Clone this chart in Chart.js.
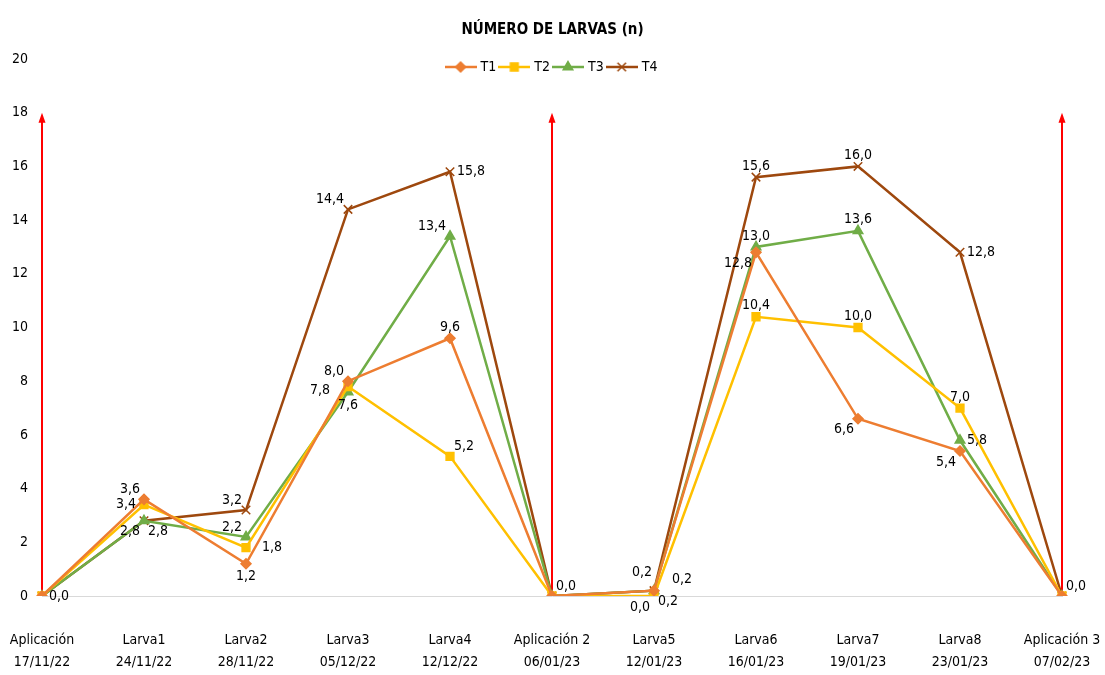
<!DOCTYPE html>
<html>
<head>
<meta charset="utf-8">
<script src="https://cdn.jsdelivr.net/npm/chart.js@4.4.1/dist/chart.umd.min.js"></script>
<style>
  html, body { margin: 0; padding: 0; background: #fff; }
</style>
</head>
<body>
<canvas id="chart" width="1105" height="675"></canvas>
<script>
// Datos
const categorias = [
  ['Aplicación', '17/11/22'], ['Larva1', '24/11/22'], ['Larva2', '28/11/22'],
  ['Larva3', '05/12/22'], ['Larva4', '12/12/22'], ['Aplicación 2', '06/01/23'],
  ['Larva5', '12/01/23'], ['Larva6', '16/01/23'], ['Larva7', '19/01/23'],
  ['Larva8', '23/01/23'], ['Aplicación 3', '07/02/23']
];
const t1 = [0, 3.6, 1.2, 8.0, 9.6, 0, 0.2, 12.8, 6.6, 5.4, 0];
const t2 = [0, 3.4, 1.8, 7.8, 5.2, 0, 0.0, 10.4, 10.0, 7.0, 0];
const t3 = [0, 2.8, 2.2, 7.6, 13.4, 0, 0.2, 13.0, 13.6, 5.8, 0];
const t4 = [0, 2.8, 3.2, 14.4, 15.8, 0, 0.2, 15.6, 16.0, 12.8, 0];
const series = ['T1', 'T2', 'T3', 'T4'];
const yTicks = [0, 2, 4, 6, 8, 10, 12, 14, 16, 18, 20];

// flechas rojas (aplicaciones)
const aplicaciones = [0, 5, 10];
const alturaFlecha = 18;

// posición de las etiquetas de cada punto ('' = sin etiqueta)
const pos1 = ['r', 'tl', 'b', 'tl', 't', 'tr', 'br', 'bl', 'bl', 'bl', 'tr'];
const pos2 = ['', 'l', 'rr', 'll', 'tr', '', 'bl', 't', 't', 't', ''];
const pos3 = ['', 'bl', 'tl', 'b', 'tl', '', 'trr', 't', 't', 'r', ''];
const pos4 = ['', 'br', 'tl', 'tl', 'r', '', 'ttl', 't', 't', 'r', ''];

// desplazamiento x, y, alineación y base para cada posición
const desplaz = {
  r: [7, 0, 'left', 'middle'], rr: [16, 0, 'left', 'middle'],
  l: [-8, 0, 'right', 'middle'], ll: [-18, 4, 'right', 'middle'],
  t: [0, -4, 'center', 'bottom'], b: [0, 6, 'center', 'top'],
  tl: [-4, -3, 'right', 'bottom'], ttl: [-2, -11, 'right', 'bottom'],
  tr: [4, -3, 'left', 'bottom'], trr: [18, -4, 'left', 'bottom'],
  bl: [-4, 4, 'right', 'top'], br: [4, 4, 'left', 'top']
};

const FONT = "'Liberation Sans Narrow', 'DejaVu Sans Condensed', sans-serif";
Chart.defaults.font.family = FONT;
Chart.defaults.color = '#000';

const colores = ['#ED7D31', '#FFC000', '#70AD47', '#9E480E'];
const estilos = ['rectRot', 'rect', 'triangle', 'crossRot'];
const radios = [5, 5.5, 5.5, 6];

function iconoLeyenda(i) {
  const c = document.createElement('canvas');
  c.width = 32; c.height = 14;
  const g = c.getContext('2d');
  g.strokeStyle = colores[i];
  g.lineWidth = 2.5;
  g.beginPath(); g.moveTo(0, 7); g.lineTo(32, 7); g.stroke();
  g.fillStyle = colores[i];
  g.lineWidth = 1.5;
  Chart.helpers.drawPoint(g, { pointStyle: estilos[i], radius: radios[i], borderWidth: 1.5, rotation: 0 }, 16, 7);
  return c;
}

const flechas = {
  id: 'flechas',
  beforeDatasetsDraw(chart) {
    const ctx = chart.ctx, xs = chart.scales.x, ys = chart.scales.y;
    ctx.save();
    ctx.strokeStyle = '#FF0000';
    ctx.fillStyle = '#FF0000';
    ctx.lineWidth = 2;
    aplicaciones.forEach(i => {
      const x = xs.getPixelForValue(i);
      const y0 = ys.getPixelForValue(0);
      const y1 = ys.getPixelForValue(alturaFlecha);
      ctx.beginPath(); ctx.moveTo(x, y0); ctx.lineTo(x, y1 + 8); ctx.stroke();
      ctx.beginPath(); ctx.moveTo(x, y1); ctx.lineTo(x - 3.5, y1 + 10); ctx.lineTo(x + 3.5, y1 + 10); ctx.closePath(); ctx.fill();
    });
    ctx.restore();
  }
};

const etiquetas = {
  id: 'etiquetas',
  afterDatasetsDraw(chart) {
    const ctx = chart.ctx;
    const posiciones = [pos1, pos2, pos3, pos4];
    ctx.save();
    ctx.font = '14px ' + FONT;
    ctx.fillStyle = '#000';
    chart.data.datasets.forEach((ds, d) => {
      const meta = chart.getDatasetMeta(d);
      meta.data.forEach((pt, j) => {
        const p = desplaz[posiciones[d][j]];
        if (!p) return;
        const txt = ds.data[j].toFixed(1).replace('.', ',');
        ctx.textAlign = p[2];
        ctx.textBaseline = p[3];
        ctx.fillText(txt, pt.x + p[0], pt.y + p[1]);
      });
    });
    ctx.restore();
  }
};

// mueve el título y la leyenda como en el original (leyenda dentro del área)
const acomodo = {
  id: 'acomodo',
  afterLayout(chart) {
    const mover = (b, dy) => { b.top += dy; b.bottom += dy; };
    if (chart.titleBlock) mover(chart.titleBlock, 9);
    const lg = chart.legend;
    const pad = lg.options.labels.padding;
    const fs = 14;
    mover(lg, 67 - (lg.top + pad + fs / 2));
  }
};

const ctx = document.getElementById('chart').getContext('2d');
new Chart(ctx, {
  type: 'line',
  data: {
    labels: categorias,
    datasets: [t1, t2, t3, t4].map((v, i) => ({
      label: series[i],
      data: v,
      borderColor: colores[i],
      backgroundColor: colores[i],
      borderWidth: 2.5,
      pointStyle: estilos[i],
      pointRadius: radios[i],
      pointBorderWidth: 1.5,
      pointBackgroundColor: colores[i],
      pointBorderColor: colores[i],
      tension: 0
    }))
  },
  options: {
    responsive: false,
    animation: false,
    layout: { padding: 0 },
    plugins: {
      title: {
        display: true,
        text: 'NÚMERO DE LARVAS (n)',
        font: { size: 15, weight: 'bold' },
        color: '#000',
        padding: { top: 12, bottom: 0 }
      },
      legend: {
        position: 'top',
        labels: {
          usePointStyle: true,
          pointStyleWidth: 26,
          boxHeight: 14,
          padding: 5,
          font: { size: 14 },
          color: '#000',
          generateLabels: chart => chart.data.datasets.map((ds, i) => ({
            text: ds.label,
            pointStyle: iconoLeyenda(i),
            fillStyle: colores[i],
            strokeStyle: colores[i],
            lineWidth: 0,
            hidden: false,
            datasetIndex: i,
            fontColor: '#000'
          }))
        }
      },
      tooltip: { enabled: false }
    },
    scales: {
      x: {
        offset: false,
        grid: { display: false, drawTicks: false },
        border: { display: true, color: '#D9D9D9', width: 1 },
        ticks: { font: { size: 14, lineHeight: 1.6 }, padding: 33, maxRotation: 0, autoSkip: false, color: '#000' },
        afterFit: s => { s.height = 79; s.paddingLeft = 0; s.paddingRight = 43; }
      },
      y: {
        min: 0,
        max: 20,
        afterBuildTicks: s => { s.ticks = yTicks.map(v => ({ value: v })); },
        grid: { display: false, drawTicks: false },
        border: { display: false },
        ticks: { font: { size: 14 }, padding: 14, color: '#000' },
        afterFit: s => { s.width = 42; }
      }
    }
  },
  plugins: [flechas, etiquetas, acomodo]
});
</script>
</body>
</html>
